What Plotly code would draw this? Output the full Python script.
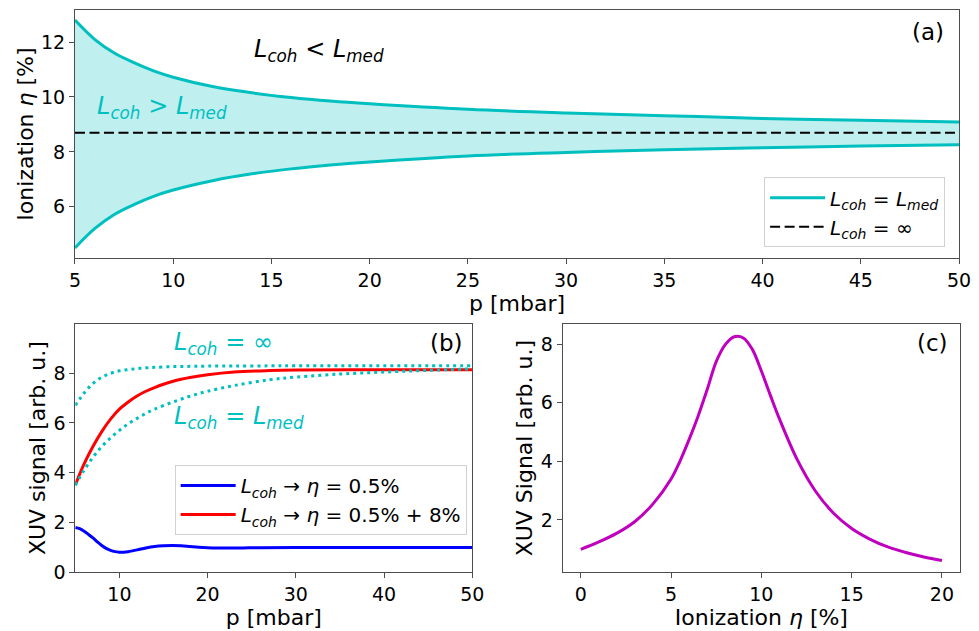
import plotly.graph_objects as go

# ---------------- data ----------------
# Panel (a): ionization window vs pressure
p_a = [5, 6, 7, 8, 9, 10, 12, 14, 16, 18, 20, 25, 30, 35, 40, 45, 50]
eta_upper = [12.80, 12.10, 11.60, 11.25, 10.95, 10.72, 10.38, 10.15, 9.98, 9.85, 9.75, 9.55, 9.42, 9.32, 9.22, 9.15, 9.09]
eta_lower = [4.50, 5.20, 5.72, 6.08, 6.38, 6.61, 6.95, 7.20, 7.38, 7.52, 7.63, 7.85, 7.98, 8.08, 8.15, 8.21, 8.26]
p_inf = [5, 50]
eta_inf = [8.7, 8.7]

# Panel (b): XUV signal vs pressure
p_blue = [5, 5.5, 6, 6.5, 7, 7.5, 8, 8.5, 9, 9.5, 10, 10.5, 11, 12, 13, 14, 15, 16, 17, 18, 19, 20, 21, 22, 24, 26, 30, 40, 50]
sig_blue = [1.80, 1.75, 1.65, 1.52, 1.38, 1.22, 1.08, 0.96, 0.88, 0.83, 0.81, 0.81, 0.83, 0.90, 0.98, 1.04, 1.07, 1.08, 1.07, 1.04, 1.01, 0.99, 0.98, 0.98, 0.98, 0.99, 1.00, 1.00, 1.00]
p_red = [5, 6, 7, 8, 9, 10, 11, 12, 13, 14, 15, 16, 17, 18, 20, 23, 27, 30, 40, 50]
sig_red = [3.50, 4.35, 5.05, 5.65, 6.15, 6.55, 6.84, 7.08, 7.27, 7.42, 7.55, 7.66, 7.75, 7.82, 7.93, 8.04, 8.10, 8.12, 8.13, 8.13]
p_dot = [5, 6, 7, 8, 9, 10, 11, 12, 13, 14, 16, 18, 20, 23, 27, 30, 35, 40, 45, 50]
sig_inf = [6.70, 7.20, 7.58, 7.83, 7.99, 8.09, 8.14, 8.18, 8.21, 8.23, 8.26, 8.27, 8.28, 8.28, 8.29, 8.29, 8.29, 8.29, 8.29, 8.29]
sig_med = [3.50, 4.10, 4.62, 5.05, 5.40, 5.70, 5.96, 6.18, 6.38, 6.55, 6.83, 7.07, 7.27, 7.50, 7.73, 7.84, 7.96, 8.04, 8.11, 8.17]

# Panel (c): XUV signal vs ionization
eta_c = [0, 1, 2, 3, 4, 5, 5.5, 6, 6.5, 7, 7.5, 8, 8.5, 9, 9.5, 10, 10.5, 11, 12, 13, 14, 15, 16, 17, 18, 19, 20]
sig_c = [1.00, 1.25, 1.55, 1.95, 2.55, 3.40, 4.02, 4.75, 5.55, 6.45, 7.40, 7.98, 8.25, 8.21, 7.82, 7.08, 6.25, 5.45, 4.04, 2.98, 2.23, 1.71, 1.35, 1.08, 0.89, 0.74, 0.62]

# ---------------- styling ----------------
TEAL = "#00BFBF"
FILL = "rgba(0,191,191,0.25)"
FONT = "DejaVu Sans"
FRAME = "#4d4d4d"
LCOH = "<i>L</i><sub><i>coh</i></sub>"
LMED = "<i>L</i><sub><i>med</i></sub>"
ETA = "<i>η</i>"

fig = go.Figure()

# ----- panel (a) -----
fig.add_trace(go.Scatter(x=p_a, y=eta_lower, mode="lines", line=dict(width=0, shape="spline"),
                         showlegend=False, hoverinfo="skip", xaxis="x", yaxis="y"))
fig.add_trace(go.Scatter(x=p_a, y=eta_upper, mode="lines", line=dict(width=0, shape="spline"),
                         fill="tonexty", fillcolor=FILL, showlegend=False, hoverinfo="skip",
                         xaxis="x", yaxis="y"))
fig.add_trace(go.Scatter(x=p_a, y=eta_upper, mode="lines", line=dict(color=TEAL, width=3, shape="spline"),
                         name=f"{LCOH} = {LMED}", legend="legend", xaxis="x", yaxis="y"))
fig.add_trace(go.Scatter(x=p_a, y=eta_lower, mode="lines", line=dict(color=TEAL, width=3, shape="spline"),
                         showlegend=False, xaxis="x", yaxis="y"))
fig.add_trace(go.Scatter(x=p_inf, y=eta_inf, mode="lines", line=dict(color="black", width=2, dash="10px,4.5px"),
                         name=f"{LCOH} = ∞", legend="legend", xaxis="x", yaxis="y"))

# ----- panel (b) -----
fig.add_trace(go.Scatter(x=p_blue, y=sig_blue, mode="lines", line=dict(color="#0000FF", width=3, shape="spline"),
                         name=f"{LCOH} → {ETA} = 0.5%", legend="legend2", xaxis="x2", yaxis="y2"))
fig.add_trace(go.Scatter(x=p_red, y=sig_red, mode="lines", line=dict(color="#FF0000", width=3, shape="spline"),
                         name=f"{LCOH} → {ETA} = 0.5% + 8%", legend="legend2", xaxis="x2", yaxis="y2"))
fig.add_trace(go.Scatter(x=p_dot, y=sig_inf, mode="lines", line=dict(color=TEAL, width=3, dash="3px,4px", shape="spline"),
                         showlegend=False, xaxis="x2", yaxis="y2"))
fig.add_trace(go.Scatter(x=p_dot, y=sig_med, mode="lines", line=dict(color=TEAL, width=3, dash="3px,4px", shape="spline"),
                         showlegend=False, xaxis="x2", yaxis="y2"))

# ----- panel (c) -----
fig.add_trace(go.Scatter(x=eta_c, y=sig_c, mode="lines", line=dict(color="#BF00BF", width=3, shape="spline"),
                         showlegend=False, xaxis="x3", yaxis="y3"))

axis_common = dict(showline=True, mirror=True, linecolor=FRAME, linewidth=1, ticks="outside",
                   ticklen=5, tickcolor=FRAME, tickwidth=1, showgrid=False, zeroline=False,
                   automargin=False,
                   tickfont=dict(family=FONT, size=19, color="black"))
TITLE_FONT = dict(family=FONT, size=22, color="black")

fig.update_layout(
    width=979, height=631,
    margin=dict(l=0, r=0, t=0, b=0),
    paper_bgcolor="white", plot_bgcolor="white",
    font=dict(family=FONT, color="black"),
    xaxis=dict(domain=[0.0766, 0.9796], range=[5, 50], tick0=5, dtick=5, anchor="y",
               title=dict(text="p [mbar]", font=TITLE_FONT, standoff=1), **axis_common),
    yaxis=dict(domain=[0.591, 0.9842], range=[4.13, 13.17], tick0=0, dtick=2, anchor="x",
               title=dict(text=f"Ionization {ETA} [%]", font=TITLE_FONT, standoff=1), **axis_common),
    xaxis2=dict(domain=[0.0769, 0.4824], range=[5, 50], tick0=0, dtick=10, anchor="y2",
                title=dict(text="p [mbar]", font=TITLE_FONT, standoff=0), **axis_common),
    yaxis2=dict(domain=[0.093, 0.4865], range=[0, 9.97], tick0=0, dtick=2, anchor="x2",
                title=dict(text="XUV signal [arb. u.]", font=TITLE_FONT, standoff=1), **axis_common),
    xaxis3=dict(domain=[0.5748, 0.9806], range=[-1, 21], tick0=0, dtick=5, anchor="y3",
                title=dict(text=f"Ionization {ETA} [%]", font=TITLE_FONT, standoff=0), **axis_common),
    yaxis3=dict(domain=[0.093, 0.4865], range=[0.215, 8.685], tick0=0, dtick=2, anchor="x3",
                title=dict(text="XUV Signal [arb. u.]", font=TITLE_FONT, standoff=2), **axis_common),
    legend=dict(x=0.7805, y=0.608, xanchor="left", yanchor="bottom", bgcolor="rgba(255,255,255,0.85)",
                bordercolor="#d0d0d0", borderwidth=1, font=dict(family=FONT, size=20), traceorder="normal",
                itemwidth=55),
    legend2=dict(x=0.1784, y=0.152, xanchor="left", yanchor="bottom", bgcolor="rgba(255,255,255,0.85)",
                 bordercolor="#d0d0d0", borderwidth=1, font=dict(family=FONT, size=20), traceorder="normal",
                 itemwidth=55),
    annotations=[
        dict(text="(a)", x=0.948, y=0.95, xref="paper", yref="paper", showarrow=False,
             xanchor="center", yanchor="middle", font=dict(size=23)),
        dict(text="(b)", x=0.456, y=0.456, xref="paper", yref="paper", showarrow=False,
             xanchor="center", yanchor="middle", font=dict(size=23)),
        dict(text="(c)", x=0.953, y=0.456, xref="paper", yref="paper", showarrow=False,
             xanchor="center", yanchor="middle", font=dict(size=23)),
        dict(text=f"{LCOH} < {LMED}", x=14.0, y=11.7, xref="x", yref="y", showarrow=False,
             xanchor="left", yanchor="middle", font=dict(size=24, color="black")),
        dict(text=f"{LCOH} > {LMED}", x=6.0, y=9.62, xref="x", yref="y", showarrow=False,
             xanchor="left", yanchor="middle", font=dict(size=24, color=TEAL)),
        dict(text=f"{LCOH} = ∞", x=16.0, y=9.2, xref="x2", yref="y2", showarrow=False,
             xanchor="left", yanchor="middle", font=dict(size=24, color=TEAL)),
        dict(text=f"{LCOH} = {LMED}", x=16.0, y=6.2, xref="x2", yref="y2", showarrow=False,
             xanchor="left", yanchor="middle", font=dict(size=24, color=TEAL)),
    ],
)

fig.write_html("out.html", config={"displayModeBar": False},
               post_script="document.body.style.margin='0';document.body.style.overflow='hidden';")
